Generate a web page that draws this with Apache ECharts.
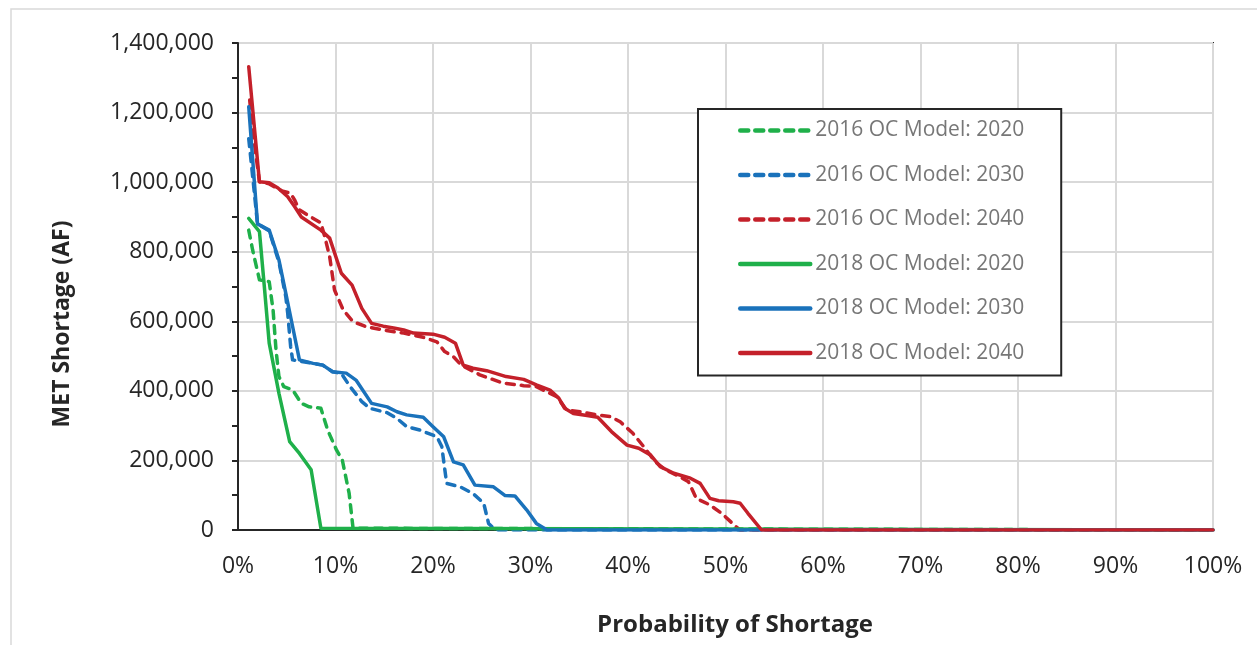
<!DOCTYPE html>
<html>
<head>
<meta charset="utf-8">
<script src="https://cdn.jsdelivr.net/npm/echarts@6/dist/echarts.min.js"></script>
<style>
html,body{margin:0;padding:0;background:#fff;}
#chart{width:1257px;height:645px;}
</style>
</head>
<body>
<div id="chart"></div>
<script>
// Probability of shortage (%) / MET shortage (AF) pairs
const oc2016_2020 = [[1.1,862000],[1.5,805000],[2.2,719000],[3.2,714000],[3.6,632000],[3.9,517000],[4.2,441000],[4.7,412000],[5.6,403000],[6.5,364000],[7.3,354000],[8.5,350000],[9.2,287000],[10.1,230000],[10.7,201000],[11.4,105000],[11.8,5000],[11.9,0],[100,0]];
const oc2016_2030 = [[1.1,1125000],[1.4,1045000],[2.0,880000],[3.2,860000],[4.2,770000],[4.9,671000],[5.1,623000],[5.4,527000],[5.6,489000],[7.7,479000],[8.7,474000],[9.7,455000],[10.6,450000],[11.5,412000],[12.7,369000],[13.5,350000],[15.3,337000],[16.3,321000],[17.3,297000],[18.7,287000],[20.4,268000],[20.9,240000],[21.4,134000],[22.8,124000],[24.1,105000],[25.2,77000],[25.7,19000],[26.2,5000],[26.6,0],[100,0]];
const oc2016_2040 = [[1.2,1236000],[1.5,1150000],[2.2,1001000],[3.2,995000],[4.5,975000],[5.4,968000],[5.8,949000],[6.3,920000],[7.1,906000],[8.5,883000],[8.9,843000],[9.4,786000],[9.9,690000],[10.8,632000],[11.8,599000],[13.2,584000],[14.9,575000],[17.0,566000],[19.0,554000],[20.4,541000],[21.2,513000],[22.1,498000],[22.9,474000],[24.8,446000],[27.2,422000],[29.3,415000],[30.6,412000],[32.7,383000],[33.7,345000],[35.1,340000],[36.8,331000],[38.2,326000],[39.2,311000],[40.5,278000],[41.6,240000],[42.8,196000],[43.9,172000],[45.3,153000],[46.2,139000],[47.0,91000],[48.4,72000],[49.6,48000],[51.1,9000],[51.5,0],[100,0]];
const oc2018_2020 = [[1.1,896000],[2.2,858000],[2.7,700000],[3.2,537000],[4.2,393000],[5.3,254000],[6.3,220000],[7.5,173000],[8.5,5000],[8.6,0],[100,0]];
const oc2018_2030 = [[1.1,1217000],[2.0,880000],[3.2,862000],[4.2,776000],[4.9,681000],[5.6,585000],[6.3,489000],[7.7,479000],[8.7,474000],[9.7,455000],[11.1,451000],[12.1,431000],[13.7,364000],[15.3,354000],[16.3,340000],[17.3,331000],[19.0,324000],[20.0,297000],[21.1,268000],[22.1,196000],[23.1,187000],[24.3,129000],[26.2,124000],[27.4,99000],[28.4,98000],[29.6,58000],[30.6,19000],[31.7,0],[100,0]];
const oc2018_2040 = [[1.1,1332000],[2.2,1001000],[3.2,998000],[4.1,983000],[5.1,958000],[5.8,930000],[6.5,900000],[8.5,862000],[9.4,839000],[10.6,738000],[11.7,704000],[12.7,637000],[13.7,594000],[14.9,586000],[16.1,580000],[17.0,575000],[18.0,566000],[20.0,563000],[21.2,554000],[22.3,537000],[23.1,474000],[24.1,465000],[25.5,458000],[27.5,441000],[29.3,433000],[30.6,417000],[32.0,402000],[32.9,379000],[33.5,350000],[34.4,335000],[35.8,329000],[36.9,324000],[38.3,283000],[39.9,244000],[41.1,235000],[42.3,216000],[43.3,182000],[44.7,163000],[46.4,149000],[47.4,134000],[48.4,91000],[49.3,84000],[50.8,81000],[51.5,77000],[52.3,48000],[53.7,0],[100,0]];

const seriesNames = ['2016 OC Model: 2020','2016 OC Model: 2030','2016 OC Model: 2040','2018 OC Model: 2020','2018 OC Model: 2030','2018 OC Model: 2040'];
const seriesData = [oc2016_2020, oc2016_2030, oc2016_2040, oc2018_2020, oc2018_2030, oc2018_2040];
const seriesColors = ['#1fb04a','#1a72bb','#c4202a','#1fb04a','#1a72bb','#c4202a'];
const seriesDashed = [true,true,true,false,false,false];

const xTicks = {min:0, max:100, interval:10};
const yTicks = {min:0, max:1400000, interval:200000};
const xTitle = 'Probability of Shortage';
const yTitle = 'MET Shortage (AF)';

const FONT = '"Open Sans", "Noto Sans", sans-serif';
const chart = echarts.init(document.getElementById('chart'), null, {renderer:'canvas'});

const series = seriesNames.map((name, i) => ({
  name: name,
  type: 'line',
  data: seriesData[i],
  symbol: 'circle',
  showSymbol: false,
  animation: false,
  lineStyle: {
    color: seriesColors[i],
    width: 3.5,
    type: seriesDashed[i] ? [8, 7] : 'solid',
    cap: 'round',
    join: 'round'
  },
  itemStyle: {color: seriesColors[i]},
  z: 2 + i
}));

chart.setOption({
  animation: false,
  backgroundColor: '#ffffff',
  graphic: [{
    type: 'rect',
    shape: {x: 11, y: 9, width: 1300, height: 700},
    style: {fill: 'none', stroke: '#d9d9d9', lineWidth: 1.5},
    silent: true,
    z: -10
  }, {
    type: 'text',
    x: 62, y: 324,
    rotation: Math.PI / 2,
    style: {text: yTitle, fontFamily: FONT, fontSize: 23, fontWeight: 'bold', fill: '#262626',
      align: 'center', verticalAlign: 'middle'},
    silent: true
  }, {
    type: 'text',
    x: 735, y: 625,
    style: {text: xTitle, fontFamily: FONT, fontSize: 24, fontWeight: 'bold', fill: '#262626',
      align: 'center', verticalAlign: 'middle'},
    silent: true
  }],
  grid: {
    left: 238, right: 44, top: 43, bottom: 115,
    show: true, borderColor: '#262626', borderWidth: 2,
    containLabel: false
  },
  legend: {
    orient: 'vertical',
    left: 698, top: 109,
    padding: [11, 37, 12, 40],
    itemWidth: 70, itemHeight: 14,
    itemGap: 23.5,
    borderColor: '#262626', borderWidth: 2,
    backgroundColor: '#ffffff',
    itemStyle: {opacity: 0},
    lineStyle: {width: 4.5},
    textStyle: {fontFamily: FONT, fontSize: 21, color: '#777777'},
    data: seriesNames
  },
  xAxis: {
    type: 'value',
    min: xTicks.min, max: xTicks.max, interval: xTicks.interval,
    axisLine: {show: true, onZero: false, lineStyle: {color: '#262626', width: 2}},
    axisTick: {show: false},
    axisLabel: {fontFamily: FONT, fontSize: 23, color: '#262626', margin: 25, formatter: '{value}%'},
    splitLine: {show: true, lineStyle: {color: '#d9d9d9', width: 2}}
  },
  yAxis: {
    type: 'value',
    min: yTicks.min, max: yTicks.max, interval: yTicks.interval,
    axisLine: {show: true, lineStyle: {color: '#262626', width: 2}},
    axisTick: {show: true, length: 6, lineStyle: {color: '#262626', width: 2}},
    minorTick: {show: true, splitNumber: 2, length: 6, lineStyle: {color: '#262626', width: 2}},
    axisLabel: {fontFamily: FONT, fontSize: 23, color: '#262626', margin: 24,
      formatter: v => v.toLocaleString('en-US')},
    splitLine: {show: true, lineStyle: {color: '#d9d9d9', width: 2}}
  },
  series: series
});
</script>
</body>
</html>
